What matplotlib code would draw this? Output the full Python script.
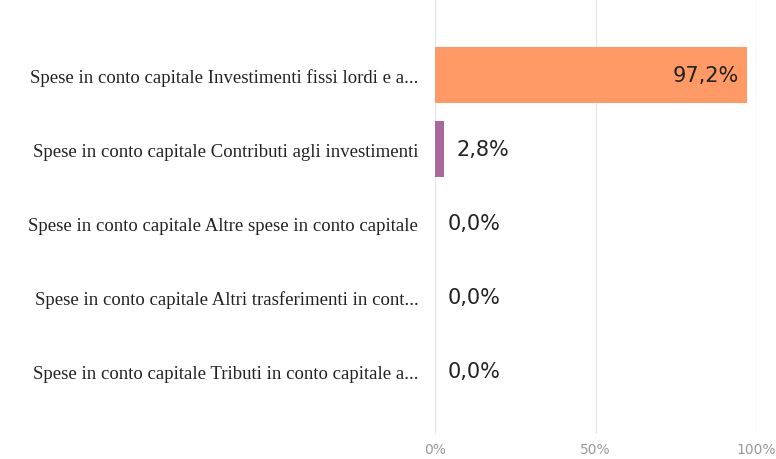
import matplotlib
matplotlib.use("Agg")
import matplotlib.pyplot as plt

categories = [
    "Spese in conto capitale Investimenti fissi lordi e a...",
    "Spese in conto capitale Contributi agli investimenti",
    "Spese in conto capitale Altre spese in conto capitale",
    "Spese in conto capitale Altri trasferimenti in cont...",
    "Spese in conto capitale Tributi in conto capitale a...",
]
values = [97.2, 2.8, 0.0, 0.0, 0.0]
value_labels = ["97,2%", "2,8%", "0,0%", "0,0%", "0,0%"]
colors = ["#FF9966", "#A8689E", "#66C2A5", "#8DA0CB", "#E78AC3"]
xticks = [0, 50, 100]
xtick_labels = ["0%", "50%", "100%"]

fig = plt.figure(figsize=(7.76, 4.6), dpi=100)
ax = fig.add_axes([435/776, 1 - 435/460, (756 - 435)/776, 435/460])
ypos = list(range(len(categories)))
ax.barh(ypos, values, height=0.76, color=colors, zorder=2)
ax.set_xlim(0, 100)
ax.set_ylim(4.85, -1.03)
ax.set_xticks(xticks)
ax.set_xticklabels(xtick_labels, color="#999999", fontsize=10)
ax.set_yticks(ypos)
ax.set_yticklabels(categories, fontfamily="Liberation Serif", fontsize=13.5,
                   color="#222222")
ax.tick_params(axis="both", length=0)
ax.tick_params(axis="y", pad=12)
ax.tick_params(axis="x", pad=6)
ax.grid(axis="x", color="#e6e6e6", linewidth=1, zorder=0)
for s in ax.spines.values():
    s.set_visible(False)

for i, (v, lab) in enumerate(zip(values, value_labels)):
    if v > 50:
        ax.text(v - 2.5, i, lab, ha="right", va="center", fontsize=15,
                family="DejaVu Sans", color="#222222", zorder=3)
    else:
        ax.text(v + 4.0, i, lab, ha="left", va="center", fontsize=15,
                family="DejaVu Sans", color="#222222", zorder=3)

fig.savefig("out.png", dpi=100)
